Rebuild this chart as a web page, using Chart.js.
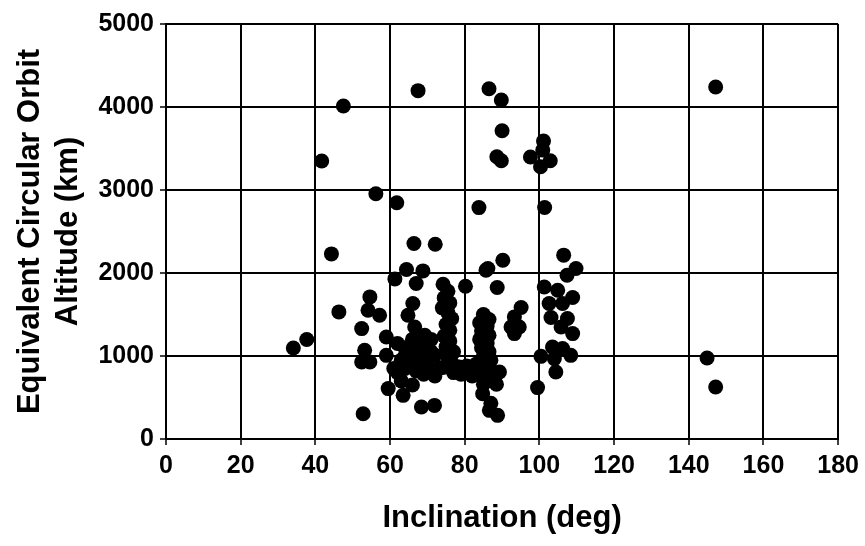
<!DOCTYPE html>
<html>
<head>
<meta charset="utf-8">
<script src="https://cdn.jsdelivr.net/npm/chart.js@4.4.1/dist/chart.umd.min.js"></script>
<style>
    html, body { margin: 0; padding: 0; background: #ffffff; }
    #wrap { width: 865px; height: 546px; }
</style>
</head>
<body>
<div id="wrap"><canvas id="orbit-chart"></canvas></div>
<script>
// inclination (deg) and equivalent circular orbit altitude (km)
const inclination = [
    67.5, 86.5, 47.5, 41.7, 56.2, 61.8, 83.8, 89.8, 147.2, 90.0, 88.6, 89.8,
    101.1, 97.6, 100.3, 102.9, 100.9, 101.4, 44.3, 46.3, 37.7, 34.1, 144.9, 147.2,
    52.8, 99.5,
    66.4, 72.1, 64.4, 68.8, 61.3, 67.0, 74.2, 80.2, 85.7, 90.2, 88.7, 86.2,
    54.6, 54.1, 57.2, 52.4, 59.0, 53.2, 52.4, 54.6, 59.0, 59.5, 63.5, 68.4, 71.9,
    66.1, 64.8, 66.6, 69.3,
    62, 64, 66, 68, 70, 63, 65, 67, 69, 72, 61, 63, 66, 68, 70, 72, 64, 66, 71, 62,
    70, 73, 71, 67, 64, 69, 82, 83, 79, 77,
    75.5, 74.5, 76, 74, 75.5, 76.5, 75, 76, 74.5, 76, 75, 77, 75.5, 76.5, 74, 77, 79, 81,
    85, 86.5, 84, 86, 84.5, 86.5, 84, 86, 84.5, 86.5, 85, 87, 85, 86.5, 84.5, 88, 85.5,
    87.5, 85, 88.5, 84.8, 87, 86.6, 88.8,
    78.6, 80, 82.2, 80.5, 89.3,
    95.1, 93.3, 92.4, 94.6, 93.3, 106.5, 109.8, 107.4, 101.3, 104.9, 108.9, 102.6,
    106.2, 103.1, 107.5, 105.8, 108.9, 103.5, 106.2, 108.4, 100.4, 104, 104.4
];
const altitude = [
    4197, 4220, 4012, 3349, 2954, 2846, 2788, 4084, 4241, 3714, 3401, 3352,
    3590, 3397, 3280, 3352, 3481, 2790, 2230, 1531, 1198, 1097, 976, 626,
    305, 619,
    2356, 2347, 2042, 2025, 1929, 1873, 1865, 1841, 2034, 2154, 1825, 2054,
    1712, 1551, 1491, 1330, 1229, 1069, 928, 928, 1008, 607, 526, 385, 405,
    1632, 1491, 1350, 1250,
    1150, 1100, 1050, 1000, 950, 950, 880, 820, 780, 760, 850, 700, 650, 1150, 1080, 1010, 1000, 1200, 1200, 800,
    880, 850, 1050, 950, 850, 1100, 760, 900, 850, 880,
    1780, 1700, 1640, 1580, 1520, 1450, 1380, 1310, 1240, 1180, 1110, 1050, 990, 920, 860, 800, 780, 800,
    1500, 1440, 1400, 1360, 1300, 1250, 1200, 1150, 1100, 1050, 1000, 950, 900, 860, 820, 790, 750,
    700, 660, 660, 546, 430, 345, 285,
    867, 820, 828, 880, 807,
    1584, 1471, 1350, 1350, 1270, 2215, 2054, 1973, 1832, 1793, 1704, 1632,
    1632, 1463, 1451, 1350, 1270, 1109, 1089, 1008, 996, 969, 807
];
const xTicks = [0, 20, 40, 60, 80, 100, 120, 140, 160, 180];
const yTicks = [0, 1000, 2000, 3000, 4000, 5000];

const fontFamily = "'Liberation Sans', Arial, Helvetica, sans-serif";

const points = inclination.map((x, i) => ({ x: x, y: altitude[i] }));

new Chart(document.getElementById('orbit-chart'), {
    type: 'scatter',
    data: {
        datasets: [{
            data: points,
            backgroundColor: '#000000',
            borderWidth: 0,
            pointRadius: 7.5,
            pointHoverRadius: 7.5
        }]
    },
    options: {
        responsive: true,
        maintainAspectRatio: false,
        animation: false,
        events: [],
        layout: {
            padding: { top: 24, right: 25, left: 0, bottom: 0 }
        },
        plugins: {
            legend: { display: false },
            tooltip: { enabled: false }
        },
        scales: {
            x: {
                type: 'linear',
                min: xTicks[0],
                max: xTicks[xTicks.length - 1],
                afterBuildTicks: scale => {
                    scale.ticks = xTicks.map(v => ({ value: v }));
                },
                afterFit: scale => { scale.height = 107; },
                grid: {
                    color: '#000000',
                    lineWidth: 2,
                    tickLength: 6,
                    tickColor: '#000000',
                    tickWidth: 1.5
                },
                border: { display: true, color: '#000000', width: 2 },
                ticks: {
                    color: '#000000',
                    padding: 6,
                    maxRotation: 0,
                    callback: value => String(value),
                    font: { size: 25, weight: 'bold', family: fontFamily }
                },
                title: {
                    display: true,
                    text: 'Inclination (deg)',
                    color: '#000000',
                    padding: { top: 0, bottom: 9 },
                    font: { size: 31, weight: 'bold', family: fontFamily, lineHeight: 1.2 }
                }
            },
            y: {
                type: 'linear',
                min: yTicks[0],
                max: yTicks[yTicks.length - 1],
                afterBuildTicks: scale => {
                    scale.ticks = yTicks.map(v => ({ value: v }));
                },
                afterFit: scale => { scale.width = 166; },
                grid: {
                    color: '#000000',
                    lineWidth: 2,
                    tickLength: 6,
                    tickColor: '#000000',
                    tickWidth: 1.5
                },
                border: { display: true, color: '#000000', width: 2 },
                ticks: {
                    color: '#000000',
                    padding: 6,
                    callback: value => String(value),
                    font: { size: 25, weight: 'bold', family: fontFamily }
                },
                title: {
                    display: true,
                    text: ['Equivalent Circular Orbit', 'Altitude (km)'],
                    color: '#000000',
                    padding: { top: 11, bottom: 0 },
                    font: { size: 31, weight: 'bold', family: fontFamily, lineHeight: 1.226 }
                }
            }
        }
    }
});
</script>
</body>
</html>
